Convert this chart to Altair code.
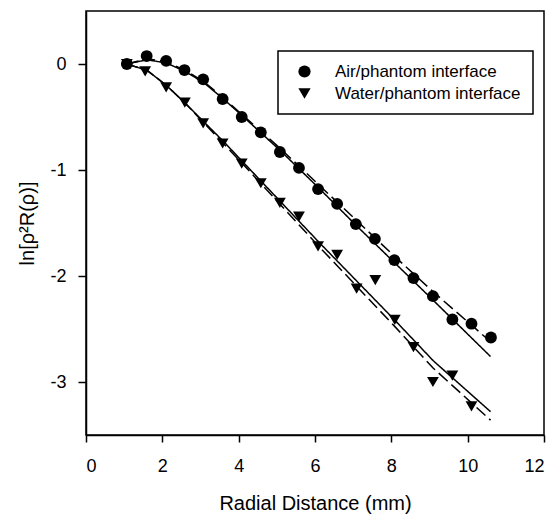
import altair as alt
import pandas as pd

# ---- measured data ----
air_x = [1.07, 1.59, 2.10, 2.58, 3.07, 3.58, 4.08, 4.58, 5.08, 5.58, 6.08, 6.58, 7.07, 7.57, 8.08, 8.58, 9.09, 9.60, 10.10, 10.61]
air_y = [0.0, 0.075, 0.03, -0.057, -0.145, -0.33, -0.50, -0.645, -0.83, -0.98, -1.18, -1.32, -1.51, -1.65, -1.85, -2.02, -2.19, -2.41, -2.45, -2.58]

water_x = [1.07, 1.55, 2.10, 2.59, 3.07, 3.58, 4.08, 4.58, 5.08, 5.58, 6.08, 6.58, 7.09, 7.58, 8.09, 8.58, 9.09, 9.60, 10.10]
water_y = [0.0, -0.07, -0.22, -0.365, -0.56, -0.75, -0.94, -1.125, -1.31, -1.44, -1.72, -1.80, -2.12, -2.04, -2.415, -2.67, -3.0, -2.94, -3.23]

# fitted curves
fit_x = [1.07, 1.6, 2.1, 2.6, 3.1, 3.6, 4.1, 5.1, 6.1, 7.1, 8.1, 9.1, 10.6]
air_solid_y = [0.0, 0.04, 0.01, -0.07, -0.18, -0.33, -0.49, -0.82, -1.17, -1.53, -1.88, -2.23, -2.76]
air_dash_y = [0.0, 0.05, 0.02, -0.06, -0.17, -0.32, -0.48, -0.80, -1.14, -1.48, -1.82, -2.15, -2.62]
water_solid_y = [0.0, -0.06, -0.20, -0.37, -0.55, -0.73, -0.92, -1.30, -1.68, -2.05, -2.42, -2.80, -3.28]
water_dash_y = [0.0, -0.06, -0.20, -0.37, -0.56, -0.75, -0.94, -1.33, -1.72, -2.10, -2.48, -2.87, -3.36]

x_ticks = [0, 2, 4, 6, 8, 10, 12]
y_ticks = [0, -1, -2, -3]

AIR = "Air/phantom interface"
WATER = "Water/phantom interface"

pts = pd.concat([
    pd.DataFrame({"x": air_x, "y": air_y, "series": AIR}),
    pd.DataFrame({"x": water_x, "y": water_y, "series": WATER}),
])
lines = pd.concat([
    pd.DataFrame({"x": fit_x, "y": air_solid_y, "curve": "air_solid", "style": "solid"}),
    pd.DataFrame({"x": fit_x, "y": air_dash_y, "curve": "air_dash", "style": "dash"}),
    pd.DataFrame({"x": fit_x, "y": water_solid_y, "curve": "water_solid", "style": "solid"}),
    pd.DataFrame({"x": fit_x, "y": water_dash_y, "curve": "water_dash", "style": "dash"}),
])

FONT = "Liberation Sans"
xscale = alt.Scale(domain=[0, 12], nice=False, zero=False)
yscale = alt.Scale(domain=[-3.5, 0.5], nice=False, zero=False)

xaxis = alt.Axis(values=x_ticks, title="Radial Distance (mm)", grid=False, tickSize=7,
                 labelPadding=15, titlePadding=18, labelExpr="toString(datum.value)",
                 labelFontSize=18, titleFontSize=20)
yaxis = alt.Axis(values=y_ticks, title="ln[ρ²R(ρ)]", grid=False, tickSize=8,
                 labelPadding=12, titlePadding=12, labelExpr="toString(datum.value)",
                 labelFontSize=18, titleFontSize=20)

line_layer = alt.Chart(lines).mark_line(color="black", strokeWidth=1.5).encode(
    x=alt.X("x:Q", scale=xscale, axis=xaxis),
    y=alt.Y("y:Q", scale=yscale, axis=yaxis),
    detail="curve:N",
    strokeDash=alt.StrokeDash("style:N", scale=alt.Scale(domain=["solid", "dash"], range=[[1, 0], [12, 5]]), legend=None),
)

point_layer = alt.Chart(pts).mark_point(filled=True, color="black", opacity=1, size=140).encode(
    x=alt.X("x:Q", scale=xscale),
    y=alt.Y("y:Q", scale=yscale),
    shape=alt.Shape("series:N", scale=alt.Scale(domain=[AIR, WATER], range=["circle", "triangle-down"]),
                    legend=alt.Legend(title=None, orient="none", legendX=192, legendY=40,
                                      strokeColor="black", padding=12, labelFontSize=17,
                                      symbolSize=150, symbolFillColor="black", symbolStrokeColor="black",
                                      rowPadding=3, labelOffset=22, symbolOffset=6, labelLimit=300)),
)

chart = alt.layer(line_layer, point_layer).properties(
    width=458, height=424,
    autosize=alt.AutoSizeParams(type="none"),
    padding={"left": 78, "top": 3, "right": 5, "bottom": 80},
).configure_view(stroke="black", strokeWidth=1.5).configure_axis(
    domainColor="black", tickColor="black", labelColor="black", titleColor="black",
    labelFont=FONT, titleFont=FONT, titleFontWeight="normal",
    domainWidth=1.5, tickWidth=1.5,
).configure_legend(labelFont=FONT, labelColor="black", strokeWidth=1.5)

chart.save("out.html", embed_options={"renderer": "svg", "actions": False})
